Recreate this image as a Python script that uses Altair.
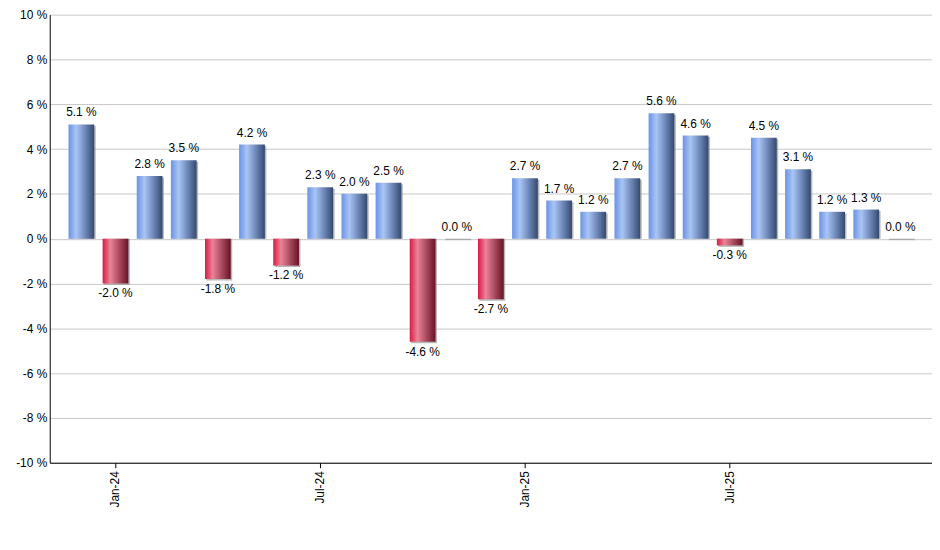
import altair as alt
import pandas as pd

months = [
    "Dec-23", "Jan-24", "Feb-24", "Mar-24", "Apr-24", "May-24", "Jun-24",
    "Jul-24", "Aug-24", "Sep-24", "Oct-24", "Nov-24", "Dec-24",
    "Jan-25", "Feb-25", "Mar-25", "Apr-25", "May-25", "Jun-25",
    "Jul-25", "Aug-25", "Sep-25", "Oct-25", "Nov-25", "Dec-25",
]
changes = [
    5.1, -2.0, 2.8, 3.5, -1.8, 4.2, -1.2, 2.3, 2.0, 2.5, -4.6, 0.0, -2.7,
    2.7, 1.7, 1.2, 2.7, 5.6, 4.6, -0.3, 4.5, 3.1, 1.2, 1.3, 0.0,
]
shown_months = ["Jan-24", "Jul-24", "Jan-25", "Jul-25"]

df = pd.DataFrame({"month": months, "change": changes})

blue = alt.Gradient(
    gradient="linear", x1=0, x2=1, y1=0, y2=0,
    stops=[
        alt.GradientStop(color="#6b93e4", offset=0),
        alt.GradientStop(color="#a9c5f6", offset=0.3),
        alt.GradientStop(color="#6d88b8", offset=0.65),
        alt.GradientStop(color="#34496f", offset=1),
    ],
)
red = alt.Gradient(
    gradient="linear", x1=0, x2=1, y1=0, y2=0,
    stops=[
        alt.GradientStop(color="#d81a44", offset=0),
        alt.GradientStop(color="#ec8398", offset=0.3),
        alt.GradientStop(color="#a84a5e", offset=0.65),
        alt.GradientStop(color="#6a1226", offset=1),
    ],
)

x = alt.X(
    "month:N", sort=months, title=None,
    scale=alt.Scale(paddingInner=0.245, paddingOuter=0.55, round=False),
    axis=alt.Axis(values=shown_months, labelAngle=-90, tickSize=5, tickColor="black",
                  domainColor="black", labelPadding=3, grid=False),
)
y = alt.Y(
    "change:Q", title=None,
    scale=alt.Scale(domain=[-10, 10], nice=False),
    axis=alt.Axis(values=list(range(-10, 11, 2)), labelExpr="datum.value + ' %'",
                  tickSize=0, labelPadding=3, domainColor="black",
                  gridColor="#c8c8c8", gridOpacity=1),
)

base = alt.Chart(df).transform_calculate(
    label="replace(format(datum.change, '.1f'), '\u2212', '-') + ' %'"
)

shadow = base.mark_bar(color="#9a9a9a", xOffset=1.5, yOffset=1.5, opacity=0.7).encode(
    x=x, y=y, y2=alt.datum(0)
)
pos_bars = base.transform_filter("datum.change >= 0").mark_bar(color=blue).encode(
    x=x, y=y, y2=alt.datum(0)
)
neg_bars = base.transform_filter("datum.change < 0").mark_bar(color=red).encode(
    x=x, y=y, y2=alt.datum(0)
)
pos_text = base.transform_filter("datum.change >= 0").mark_text(
    baseline="bottom", dy=-5, fontSize=12, color="black"
).encode(x=x, y=y, text="label:N")
neg_text = base.transform_filter("datum.change < 0").mark_text(
    baseline="top", dy=5, fontSize=12, color="black"
).encode(x=x, y=y, text="label:N")

chart = (
    alt.layer(shadow, pos_bars, neg_bars, pos_text, neg_text)
    .properties(
        width=888, height=451,
        autosize=alt.AutoSizeParams(type="none"),
        padding={"left": 42, "top": 5, "right": 0, "bottom": 60},
    )
    .configure(font="Liberation Sans")
    .configure_view(stroke=None)
    .configure_axis(labelFontSize=12, labelColor="black", labelFont="Liberation Sans")
)

chart.save("out.html", embed_options={"renderer": "svg", "actions": False})
